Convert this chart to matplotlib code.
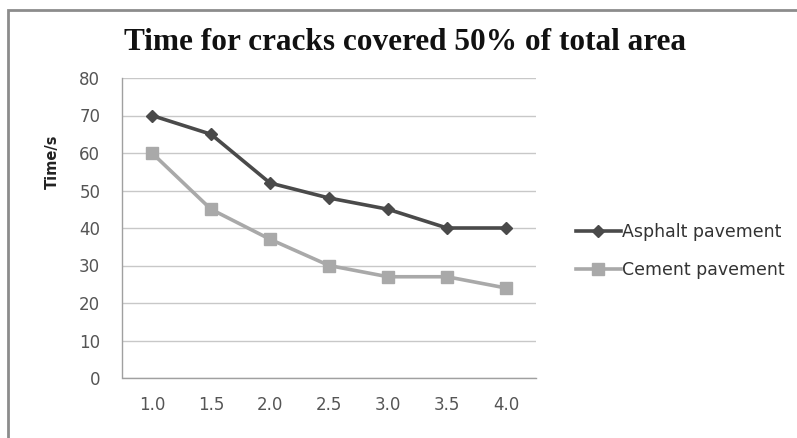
import matplotlib
matplotlib.use("Agg")
import matplotlib.pyplot as plt
from matplotlib.patches import Rectangle

categories = ["1.0", "1.5", "2.0", "2.5", "3.0", "3.5", "4.0"]
asphalt = [70, 65, 52, 48, 45, 40, 40]
cement = [60, 45, 37, 30, 27, 27, 24]
yticks = [0, 10, 20, 30, 40, 50, 60, 70, 80]

W, H = 797, 438
fig = plt.figure(figsize=(W / 100, H / 100), dpi=100)
fig.patch.set_facecolor("white")

# outer chart frame
fig.patches.append(Rectangle((8 / W, -0.05), 1.0, (H - 10) / H + 0.05, transform=fig.transFigure,
                             fill=False, edgecolor="#8c8c8c", linewidth=2.0))

ax = fig.add_axes([122.5 / W, 1 - 378 / H, (535.5 - 122.5) / W, 300 / H])
x = list(range(len(categories)))
ax.plot(x, asphalt, color="#4a4a4a", linewidth=2.6, marker="D", markersize=6.5,
        label="Asphalt pavement")
ax.plot(x, cement, color="#a9a9a9", linewidth=2.6, marker="s", markersize=9,
        label="Cement pavement")

ax.set_xlim(-0.5, len(categories) - 0.5)
ax.set_ylim(0, 80)
ax.set_yticks(yticks)
ax.set_xticks(x)
ax.set_xticklabels(categories)
ax.yaxis.grid(True, color="#c8c8c8", linewidth=1.0)
ax.set_axisbelow(True)
for s in ["top", "right"]:
    ax.spines[s].set_visible(False)
for s in ["left", "bottom"]:
    ax.spines[s].set_color("#a0a0a0")
    ax.spines[s].set_linewidth(1.0)
ax.tick_params(axis="both", length=0, labelsize=12, labelcolor="#555555")
ax.tick_params(axis="x", pad=13)
ax.tick_params(axis="y", pad=16)
for t in ax.get_xticklabels() + ax.get_yticklabels():
    t.set_fontfamily("DejaVu Sans")

fig.text(52 / W, 1 - 162 / H, "Time/s", rotation=90, ha="center", va="center",
         fontsize=10.5, fontweight="bold", color="#222222")

fig.text(405 / W, 1 - 42 / H, "Time for cracks covered 50% of total area", ha="center", va="center",
         fontsize=22.5, fontweight="bold", family="Liberation Serif", color="#111111")

leg = fig.legend(loc="center left", bbox_to_anchor=(560 / W, 1 - 251 / H), frameon=False,
                 fontsize=12.5, handlelength=2.6, handletextpad=0.1, labelspacing=1.2)
for t in leg.get_texts():
    t.set_color("#333333")

fig.savefig("out.png", dpi=100)
